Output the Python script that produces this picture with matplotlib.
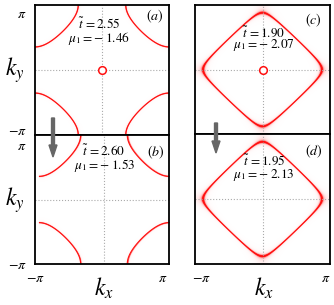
import numpy as np
import matplotlib
matplotlib.use("Agg")
import matplotlib.pyplot as plt
from matplotlib.colors import LinearSegmentedColormap

plt.rcParams['font.family'] = ['Liberation Serif', 'DejaVu Serif']
plt.rcParams['mathtext.fontset'] = 'stix'

# panel data: hopping, chemical potential, fermi level of cos(kx)+cos(ky) band
labels = ['a', 'b', 'c', 'd']
t_tilde = ['2.55', '2.60', '1.90', '1.95']
mu1 = ['1.46', '1.53', '2.07', '2.13']
fermi_level = [-0.56, -0.57, 0.07, 0.07]
gamma_pocket = [True, False, True, False]
eta = [0.008, 0.008, 0.012, 0.012]

# axes boxes in pixels (left, top, right, bottom) of a 334x305 picture
W, H = 334, 305
boxes = [(35, 5, 169, 135), (35, 135, 169, 264),
         (195, 5, 330, 134), (195, 134, 330, 264)]
# text positions (axes fraction)
txt_t = [(0.478, 0.85), (0.51, 0.872), (0.51, 0.787), (0.51, 0.794)]
txt_mu = [(0.478, 0.743), (0.52, 0.764), (0.51, 0.687), (0.51, 0.687)]
txt_lab = [(0.896, 0.915), (0.903, 0.868), (0.874, 0.884), (0.88, 0.868)]
# tick label positions in units of pi
ytick_pos = [(-0.92, 0.88), (-1.0, 0.85)]
xtick_pos = {1: (-1.06, 0.91), 3: (-0.91, 0.93)}

k = np.linspace(-np.pi, np.pi, 1201)
KX, KY = np.meshgrid(k, k)
red = '#ff1010'
cmap = LinearSegmentedColormap.from_list('wr', ['#ffffff', red])

fig = plt.figure(figsize=(W / 100, H / 100), dpi=100)

for i in range(4):
    l, t, r, b = boxes[i]
    ax = fig.add_axes([l / W, 1 - b / H, (r - l) / W, (b - t) / H])
    eps = np.cos(KX) + np.cos(KY) - fermi_level[i]
    A = eta[i] ** 2 / (eps ** 2 + eta[i] ** 2)
    ax.imshow(A, extent=[-np.pi, np.pi, -np.pi, np.pi], origin='lower',
              cmap=cmap, vmin=0, vmax=0.4, interpolation='antialiased')
    ax.contour(KX, KY, eps, levels=[0], colors=red, linewidths=0.8)
    ax.axhline(0, color='#aaaaaa', ls=':', lw=0.8)
    ax.axvline(0, color='#aaaaaa', ls=':', lw=0.8)
    if gamma_pocket[i]:
        ax.plot([0], [0], 'o', mfc='white', mec=red, ms=5.5, mew=1.1)
    ax.set_xlim(-np.pi, np.pi)
    ax.set_ylim(-np.pi, np.pi)
    ax.set_aspect('auto')
    for s in ax.spines.values():
        s.set_linewidth(1.3)
    ax.tick_params(length=0, labelsize=10, pad=6)
    if i < 2:
        ax.set_yticks(np.array(ytick_pos[i]) * np.pi)
        ax.set_yticklabels([r'$-\pi$', r'$\pi$'])
    else:
        ax.set_yticks([])
    if i in xtick_pos:
        ax.set_xticks(np.array(xtick_pos[i]) * np.pi)
        ax.set_xticklabels([r'$-\pi$', r'$\pi$'])
    else:
        ax.set_xticks([])
    ax.text(*txt_t[i], r'$\tilde{t}\,=%s$' % t_tilde[i], transform=ax.transAxes,
            ha='center', va='center', fontsize=9.5)
    ax.text(*txt_mu[i], r'$\mu_1 = -\;%s$' % mu1[i], transform=ax.transAxes,
            ha='center', va='center', fontsize=9.5)
    ax.text(*txt_lab[i], r'$(%s)$' % labels[i], transform=ax.transAxes,
            ha='center', va='center', fontsize=10)

# axis labels
for y in (70, 200):
    fig.text(15 / W, 1 - y / H, r'$k_y$', fontsize=17, ha='center', va='center')
for x in (104, 264):
    fig.text(x / W, 1 - 288 / H, r'$k_x$', fontsize=17, ha='center', va='center')

# arrows across the panel borders
for x0, y0, y1 in [(53, 118, 157), (216, 123, 153)]:
    fig.add_artist(matplotlib.patches.FancyArrow(
        x0 / W, 1 - y0 / H, 0, -(y1 - y0) / H, width=2.7 / H,
        head_width=8 / W, head_length=12 / H, length_includes_head=True,
        color='#666666', transform=fig.transFigure))

fig.savefig('out.png', dpi=100)
